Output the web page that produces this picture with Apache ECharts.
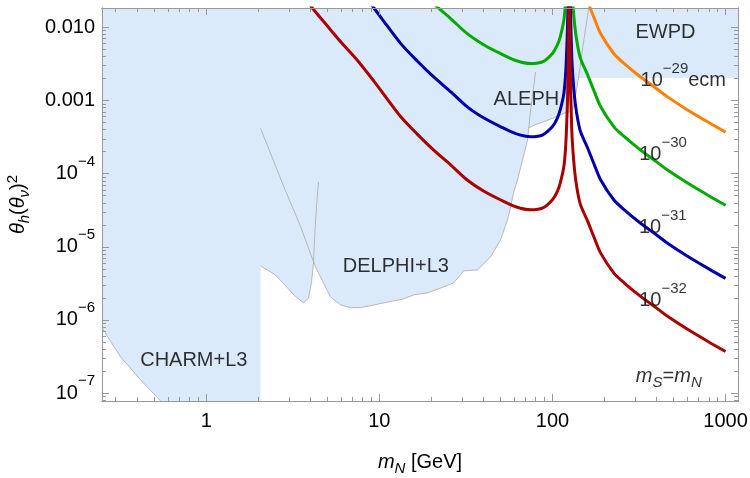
<!DOCTYPE html>
<html>
<head>
<meta charset="utf-8">
<script src="https://cdn.jsdelivr.net/npm/echarts@6/dist/echarts.min.js"></script>
<style>
  html, body { margin: 0; padding: 0; background: #fff; }
  #chart { width: 750px; height: 478px; }
</style>
</head>
<body>
<div id="chart"></div>
<script>
// 质量 (GeV)
var mass = [3.5, 4.1, 5, 6, 7.5, 9.3, 11, 13.3, 16.5, 20.6, 26, 32.2, 40, 50, 62, 75, 88, 100, 106.6, 111, 116.4, 119, 120.6, 122, 123, 123.7, 124.2, 124.6, 125.4, 125.8, 126.5, 127.5, 128.5, 130, 133, 136, 140, 145, 152, 159, 175, 190, 226, 260, 323, 400, 460, 600, 800, 1000];
// 10^-32
var red = [3.0e-2, 1.84e-2, 1.05e-2, 6.3e-3, 3.5e-3, 1.84e-3, 1.08e-3, 6.0e-4, 3.5e-4, 2.1e-4, 1.3e-4, 8.2e-5, 5.8e-5, 4.4e-5, 3.5e-5, 3.2e-5, 3.4e-5, 4.4e-5, 5.7e-5, 7.5e-5, 1.25e-4, 2.2e-4, 4.2e-4, 9.0e-4, 2.0e-3, 4.7e-3, 1.24e-2, 4.9e-2, 5.0e-2, 1.23e-2, 3.5e-3, 1.25e-3, 6.4e-4, 3.0e-4, 1.4e-4, 8.5e-5, 5.5e-5, 3.8e-5, 2.9e-5, 2.3e-5, 1.3e-5, 8.2e-6, 4.4e-6, 3.2e-6, 2.1e-6, 1.45e-6, 1.13e-6, 7.5e-7, 5.0e-7, 3.7e-7];
// 10^-31
var blue = [0.3, 0.184, 0.105, 0.063, 0.035, 0.0184, 0.0108, 6.0e-3, 3.5e-3, 2.1e-3, 1.3e-3, 8.2e-4, 5.8e-4, 4.4e-4, 3.5e-4, 3.2e-4, 3.4e-4, 4.4e-4, 5.7e-4, 7.5e-4, 1.25e-3, 2.2e-3, 4.2e-3, 9.0e-3, 2.0e-2, 4.7e-2, 0.124, 0.49, 0.5, 0.123, 3.5e-2, 1.25e-2, 6.4e-3, 3.0e-3, 1.4e-3, 8.5e-4, 5.5e-4, 3.8e-4, 2.9e-4, 2.3e-4, 1.3e-4, 8.2e-5, 4.4e-5, 3.2e-5, 2.1e-5, 1.45e-5, 1.13e-5, 7.5e-6, 5.0e-6, 3.7e-6];
// 10^-30
var green = [3, 1.84, 1.05, 0.63, 0.35, 0.184, 0.108, 0.06, 0.035, 0.021, 0.013, 8.2e-3, 5.8e-3, 4.4e-3, 3.5e-3, 3.2e-3, 3.4e-3, 4.4e-3, 5.7e-3, 7.5e-3, 0.0125, 0.022, 0.042, 0.09, 0.2, 0.47, 1.24, 4.9, 5.0, 1.23, 0.35, 0.125, 0.064, 0.03, 0.014, 8.5e-3, 5.5e-3, 3.8e-3, 2.9e-3, 2.3e-3, 1.3e-3, 8.2e-4, 4.4e-4, 3.2e-4, 2.1e-4, 1.45e-4, 1.13e-4, 7.5e-5, 5.0e-5, 3.7e-5];
// 10^-29 ecm
var orangeMass = [145, 152, 159, 175, 190, 226, 260, 323, 400, 460, 600, 800, 1000];
var orange = [0.038, 0.029, 0.023, 0.013, 8.2e-3, 4.4e-3, 3.2e-3, 2.1e-3, 1.45e-3, 1.13e-3, 7.5e-4, 5.0e-4, 3.7e-4];

// 排除区域下边界
var bandMass = [0.25, 0.32, 0.417, 0.545, 2.06, 2.06, 2.51, 3.21, 3.65, 3.9, 4.06, 4.17, 4.28, 5.22, 5.97, 6.82, 7.79, 10.6, 13.8, 15.8, 19.0, 23.5, 26.8, 29.5, 30.6, 36.9, 43.9, 50.1, 55.0, 57.3, 59.6, 62.8, 67, 71.8, 72.8, 80, 88.9, 101.5, 112, 122.2, 127, 131, 137, 141.5, 1200];
var bandLow = [7.8e-7, 3.13e-7, 1.52e-7, 7.8e-8, 7.8e-8, 5.48e-6, 4.13e-6, 2.2e-6, 1.71e-6, 1.99e-6, 3.32e-6, 6.2e-6, 5.3e-6, 2.07e-6, 1.61e-6, 1.47e-6, 1.47e-6, 1.71e-6, 1.94e-6, 2.2e-6, 2.35e-6, 2.83e-6, 3.21e-6, 4.13e-6, 4.69e-6, 4.83e-6, 7.27e-6, 1.24e-5, 2.33e-5, 3.5e-5, 5.45e-5, 8.2e-5, 1.5e-4, 2.88e-4, 4.2e-4, 4.7e-4, 5.1e-4, 5.8e-4, 6.4e-4, 7.0e-4, 7.0e-4, 7.5e-4, 1.3e-3, 2.03e-3, 2.03e-3];

// 边界线
var charmMass = [0.25, 0.32, 0.417, 0.545];
var charmTheta = [7.8e-7, 3.13e-7, 1.52e-7, 7.8e-8];
var l3Mass = [2.06, 2.51, 3.21, 3.65, 3.9, 4.06, 4.17, 4.25, 4.34, 4.45];
var l3Theta = [5.48e-6, 4.13e-6, 2.2e-6, 1.71e-6, 1.99e-6, 3.32e-6, 6.2e-6, 1.7e-5, 3.74e-5, 7.7e-5];
var delphiMass = [2.06, 2.81, 3.51, 4.17, 4.28, 5.22, 5.97, 6.82, 7.79, 10.6, 13.8, 15.8, 19.0, 23.5, 26.8, 29.5, 30.6, 36.9, 43.9, 50.1, 55.0, 57.3, 59.6, 62.8, 67, 71.8, 74.8, 79.9];
var delphiTheta = [4.17e-4, 6.6e-5, 1.89e-5, 6.2e-6, 5.3e-6, 2.07e-6, 1.61e-6, 1.47e-6, 1.47e-6, 1.71e-6, 1.94e-6, 2.2e-6, 2.35e-6, 2.83e-6, 3.21e-6, 4.13e-6, 4.69e-6, 4.83e-6, 7.27e-6, 1.24e-5, 2.33e-5, 3.5e-5, 5.45e-5, 8.2e-5, 1.5e-4, 2.88e-4, 7.4e-4, 2.45e-3];
var alephMass = [72.8, 80, 88.9, 101.5, 112, 122.2, 127, 131, 137, 141.5];
var alephTheta = [4.2e-4, 4.7e-4, 5.1e-4, 5.8e-4, 6.4e-4, 7.0e-4, 7.0e-4, 7.5e-4, 1.3e-3, 2.03e-3];
var ewpdMass = [141.5, 151, 162];
var ewpdTheta = [2.03e-3, 6.1e-3, 0.0184];

// 刻度
var xMajor = [1, 10, 100, 1000];
var yMajor = [1e-7, 1e-6, 1e-5, 1e-4, 1e-3, 1e-2];
var X_MIN = 0.25, X_MAX = 1180;
var Y_MIN = 7.8e-8, Y_MAX = 0.0184;

// 图中文字 [质量, θ², 文本]
var notes = [
  [450, 8.5e-3, 'EWPD'],
  [570, 1.87e-3, '{b|10}{s|−29}{b|ecm}'],
  [70.7, 1.04e-3, 'ALEPH'],
  [435, 1.83e-4, '{b|10}{s|−30}'],
  [434, 1.84e-5, '{b|10}{s|−31}'],
  [435, 1.85e-6, '{b|10}{s|−32}'],
  [12.45, 5.37e-6, 'DELPHI+L3'],
  [0.848, 2.78e-7, 'CHARM+L3'],
  [470, 1.67e-7, '{i|m}{sub|S}{b|=}{i|m}{sub|N}']
];

function pair(xs, ys) {
  return xs.map(function (x, i) { return [x, ys[i]]; });
}
function minorTicks(lo, hi) {
  var out = [];
  for (var e = Math.floor(Math.log10(lo)); e <= Math.ceil(Math.log10(hi)); e++) {
    for (var k = 2; k <= 9; k++) {
      var v = k * Math.pow(10, e);
      if (v > lo && v < hi) out.push(v);
    }
  }
  return out;
}

var FONT = 'Liberation Sans, Arial, sans-serif';
var frame = '#999';
var rich = {
  b: { fontSize: 20, color: '#000', fontFamily: FONT },
  s: { fontSize: 15, color: '#000', fontFamily: FONT, padding: [0, 0, 24, 0] },
  i: { fontSize: 20, color: '#000', fontFamily: FONT, fontStyle: 'italic' },
  sub: { fontSize: 15, color: '#000', fontFamily: FONT, fontStyle: 'italic', padding: [12, 0, 0, 0] },
  sup: { fontSize: 15, color: '#000', fontFamily: FONT, padding: [0, 0, 12, 0] }
};

function logAxis(dim, pos, ticks, len) {
  return {
    type: 'log',
    logBase: 10,
    position: pos,
    min: dim === 'x' ? X_MIN : Y_MIN,
    max: dim === 'x' ? X_MAX : Y_MAX,
    z: 5,
    axisLine: { show: true, lineStyle: { color: frame, width: 1 } },
    axisTick: { show: true, inside: true, length: len, customValues: ticks, lineStyle: { color: frame } },
    axisLabel: { show: false },
    splitLine: { show: false },
    minorTick: { show: false }
  };
}

var xMinor = minorTicks(X_MIN, X_MAX);
var yMinor = minorTicks(Y_MIN, Y_MAX);

var xMain = logAxis('x', 'bottom', xMajor, 7);
xMain.axisLabel = {
  show: true, customValues: xMajor, margin: 10, color: '#000', fontSize: 20, fontFamily: FONT,
  formatter: function (v) { return String(Math.round(v)); }
};
xMain.name = '{i|m}{sub|N} [GeV]';
xMain.nameLocation = 'middle';
xMain.nameGap = 48;
xMain.nameTextStyle = { color: '#000', fontSize: 20, fontFamily: FONT, rich: rich };

var yMain = logAxis('y', 'left', yMajor, 7);
yMain.axisLabel = {
  show: true, customValues: yMajor, margin: 7, color: '#000', fontSize: 20, fontFamily: FONT, rich: rich,
  formatter: function (v) {
    var e = Math.round(Math.log10(v));
    if (e >= -3) return Math.pow(10, e).toFixed(3);
    return '{b|10}{s|−' + (-e) + '}';
  }
};
yMain.name = '{i|θ}{sub|h}{b|(}{i|θ}{sub|ν}{b|)}{sup|2}';
yMain.nameLocation = 'middle';
yMain.nameRotate = 90;
yMain.nameGap = 70;
yMain.nameTextStyle = { color: '#000', fontSize: 20, fontFamily: FONT, rich: rich };

function curve(name, xs, ys, color) {
  return {
    name: name, type: 'line', data: pair(xs, ys), xAxisIndex: 0, yAxisIndex: 0,
    showSymbol: false, smooth: 0.3, z: 4,
    lineStyle: { color: color, width: 3 }
  };
}
function edge(xs, ys) {
  return {
    type: 'line', data: pair(xs, ys), xAxisIndex: 0, yAxisIndex: 0,
    showSymbol: false, z: 3, lineStyle: { color: '#a8a8a8', width: 0.8 }
  };
}

var myChart = echarts.init(document.getElementById('chart'));
var option = {
  animation: false,
  textStyle: { fontFamily: FONT },
  grid: { left: 102, right: 12, top: 8, bottom: 77, containLabel: false, outerBoundsMode: 'none' },
  xAxis: [
    xMain,
    logAxis('x', 'bottom', xMinor, 4),
    logAxis('x', 'top', xMajor, 7),
    logAxis('x', 'top', xMinor, 4)
  ],
  yAxis: [
    yMain,
    logAxis('y', 'left', yMinor, 4),
    logAxis('y', 'right', yMajor, 7),
    logAxis('y', 'right', yMinor, 4)
  ],
  series: [
    {
      type: 'line', data: pair(bandMass, bandLow), showSymbol: false, z: 1,
      lineStyle: { width: 0, opacity: 0 },
      areaStyle: { color: '#dbeafa', opacity: 1, origin: 'end' }
    },
    edge(charmMass, charmTheta),
    edge(l3Mass, l3Theta),
    edge(delphiMass, delphiTheta),
    edge(alephMass, alephTheta),
    edge(ewpdMass, ewpdTheta),
    curve('1e-29', orangeMass, orange, '#ff8000'),
    curve('1e-30', mass, green, '#00aa00'),
    curve('1e-31', mass, blue, '#0000aa'),
    curve('1e-32', mass, red, '#aa0000'),
    {
      type: 'scatter', symbolSize: 1, z: 6, silent: true,
      itemStyle: { color: 'rgba(0,0,0,0)' },
      label: { show: true, position: 'inside', color: '#000', fontSize: 20, fontFamily: FONT, rich: rich },
      data: notes.map(function (n) {
        return { value: [n[0], n[1]], label: { formatter: n[2] } };
      })
    }
  ]
};
myChart.setOption(option);
window.addEventListener('resize', function () {
  myChart.resize();
});
</script>
</body>
</html>
